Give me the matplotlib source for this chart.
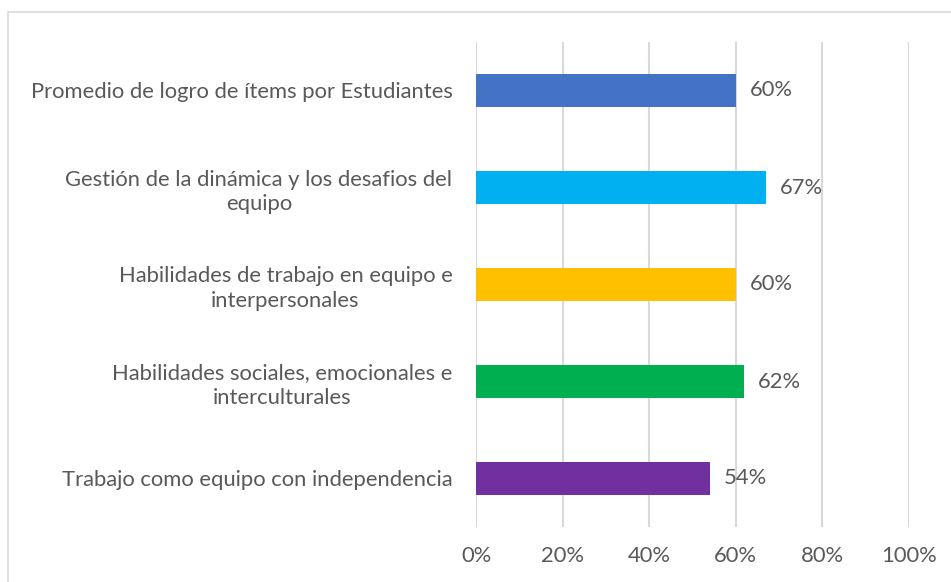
import matplotlib
matplotlib.use("Agg")
import matplotlib.pyplot as plt
from matplotlib.patches import Rectangle

categories = [
    "Promedio de logro de ítems por Estudiantes",
    "Gestión de la dinámica y los desafios del\nequipo",
    "Habilidades de trabajo en equipo e\ninterpersonales",
    "Habilidades sociales, emocionales e\ninterculturales",
    "Trabajo como equipo con independencia",
]
values = [0.60, 0.67, 0.60, 0.62, 0.54]
colors = ["#4472C4", "#00B0F0", "#FFC000", "#00B050", "#7030A0"]
xticks = [0, 0.2, 0.4, 0.6, 0.8, 1.0]
xtick_labels = ["0%", "20%", "40%", "60%", "80%", "100%"]

W, H = 951, 582
FS = 15.8
plt.rcParams['font.family'] = ['Lato', 'DejaVu Sans']
fig = plt.figure(figsize=(W / 100, H / 100), dpi=100)
fig.patch.set_facecolor("white")

# outer chart border
fig.patches.append(Rectangle((8 / W, -0.1), 1.2, 1 - 12 / H + 0.1, transform=fig.transFigure,
                             fill=False, edgecolor="#D9D9D9", lw=1.2))

ax = fig.add_axes([476 / W, 1 - 527 / H, (909 - 476) / W, (527 - 42) / H])
ypos = list(range(len(categories)))
ax.barh(ypos, values, height=0.34, color=colors, zorder=3)
ax.set_ylim(len(categories) - 0.5, -0.5)
ax.set_xlim(0, 1.0)
ax.set_xticks(xticks)
ax.set_xticklabels(xtick_labels)
ax.set_yticks(ypos)
ax.set_yticklabels(categories, multialignment="center", linespacing=1.3)
ax.tick_params(axis="both", length=0, labelsize=FS, labelcolor="#595959")
ax.tick_params(axis="y", pad=17)
ax.tick_params(axis="x", pad=14)
for s in ax.spines.values():
    s.set_visible(False)
ax.grid(axis="x", color="#D9D9D9", lw=1.5, zorder=0)
ax.set_axisbelow(True)

for y, v in zip(ypos, values):
    ax.text(v + 0.032, y, f"{round(v * 100):d}%", va="center", ha="left",
            fontsize=FS, color="#595959")

fig.savefig("out.png", dpi=100)
